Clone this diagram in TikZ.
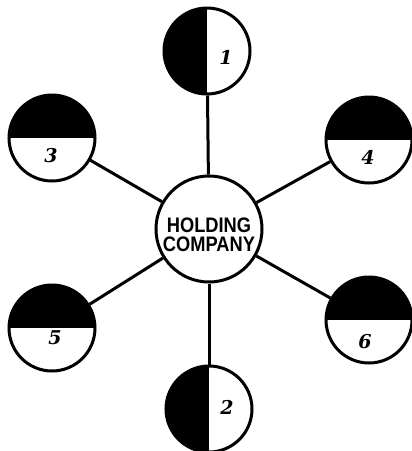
\documentclass[tikz,border=0pt]{standalone}
\usepackage{fontspec}
\usepackage{graphicx}
\newfontfamily\hcfont{Liberation Sans}
\newfontfamily\numfont{DejaVu Serif}
\begin{document}
\begin{tikzpicture}[x=1pt,y=-1pt,
  line width=3pt,
  sub/.style={circle,draw,minimum size=86pt,inner sep=0pt},
  tophalf/.style={path picture={\fill (path picture bounding box.north west) rectangle (path picture bounding box.east);}},
  lefthalf/.style={path picture={\fill (path picture bounding box.south west) rectangle (path picture bounding box.north);}},
  num/.style={font=\numfont\bfseries\itshape\fontsize{19}{19}\selectfont,inner sep=0pt},
  hub/.style={circle,draw,minimum size=106pt,inner sep=0pt,fill=white}]
\useasboundingbox (0,0) rectangle (412,451);
\node[hub] (hc) at (209,229) {};
\node[sub,lefthalf] (c1) at (207,51) {};
\node[sub,lefthalf] (c2) at (209,409) {};
\node[sub,tophalf] (c3) at (52,138) {};
\node[sub,tophalf] (c4) at (369,140) {};
\node[sub,tophalf] (c5) at (52,328) {};
\node[sub,tophalf] (c6) at (369,320) {};
\draw (hc) -- (c1);
\draw (hc) -- (c2);
\draw (hc) -- (c3);
\draw (hc) -- (c4);
\draw (hc) -- (c5);
\draw (hc) -- (c6);
\node[num] (n1) at (226,57) {1};
\node[num] (n2) at (227,407) {2};
\node[num] (n3) at (51,156) {3};
\node[num] (n4) at (368,157) {4};
\node[num] (n5) at (55,338) {5};
\node[num] (n6) at (365,342) {6};
\node[align=center,inner sep=0pt,font=\hcfont\bfseries\fontsize{21}{19}\selectfont] (t) at (209,235)
  {\scalebox{0.87}[1]{HOLDING}\\\scalebox{0.87}[1]{COMPANY}};
\end{tikzpicture}
\end{document}
